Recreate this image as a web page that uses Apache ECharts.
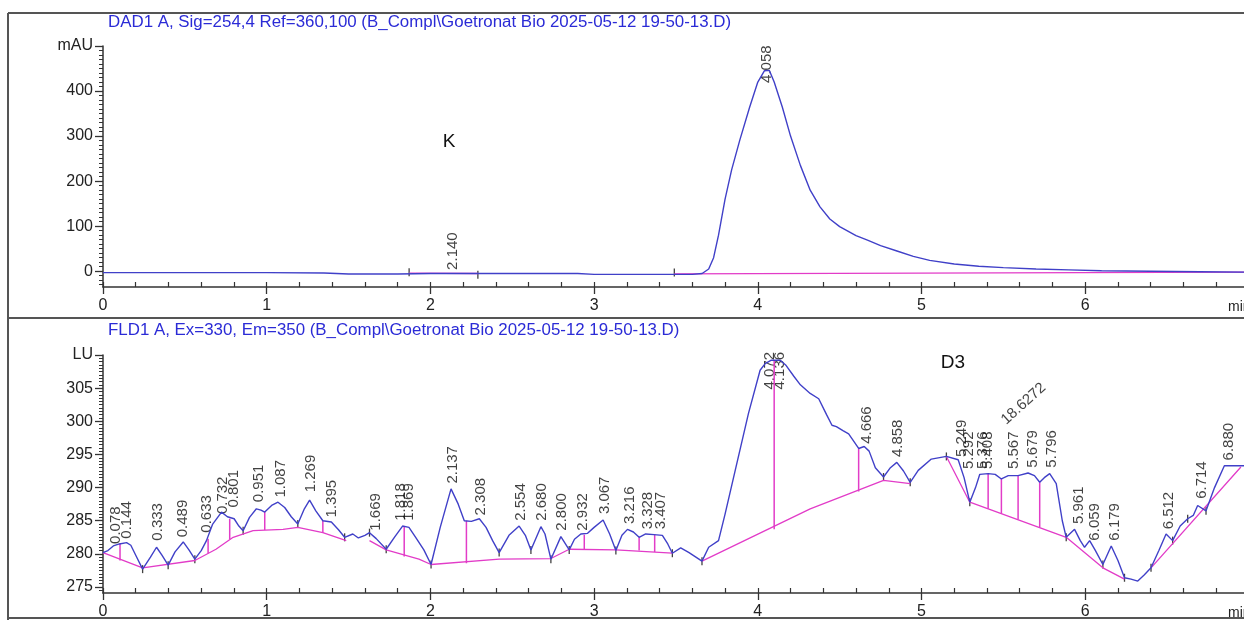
<!DOCTYPE html>
<html>
<head>
<meta charset="utf-8">
<style>
  html, body { margin: 0; padding: 0; background: #fff; }
  #chart { width: 1244px; height: 620px; }
</style>
<script src="https://cdn.jsdelivr.net/npm/echarts@6/dist/echarts.min.js"></script>
</head>
<body>
<div id="chart"></div>
<script>
// ---- DAD1 A (254 nm) trace ----
const dadTime = [0, 0.5, 1.0, 1.35, 1.5, 1.8, 2.0, 2.5, 2.9, 3.0, 3.3, 3.6, 3.66, 3.70, 3.73, 3.76, 3.80, 3.84, 3.89, 3.95, 4.00, 4.04, 4.07, 4.10, 4.15, 4.20, 4.26, 4.32, 4.38, 4.44, 4.50, 4.55, 4.60, 4.67, 4.75, 4.85, 4.95, 5.05, 5.20, 5.35, 5.50, 5.70, 5.90, 6.10, 6.40, 6.70, 6.97]
const dadSignal = [-3, -3, -3, -4, -6, -6, -5, -5, -5, -7, -7, -7, -5, 5, 30, 80, 160, 225, 291, 364, 420, 445, 446, 420, 364, 300, 235, 180, 143, 116, 99, 89, 79, 69, 57, 45, 33, 24, 16, 11, 8, 5, 3, 1, 0, -1, -2]
// baseline segments (null = gap)
const dadBaseTime = [1.87, 2.29, null, 3.49, 6.97]
const dadBaseValue = [-4, -5, null, -6, -2]
const dadMarkTime = [1.87, 2.29, 3.49]
const dadMarkValue = [-2, -8, -3]
const dadPeakTime = [2.140, 4.058]
const dadPeakAnchor = [3, 418]
const dadPeakText = ['2.140', '4.058']

// ---- FLD1 A (Ex 330 / Em 350) trace ----
const fldTime = [0.000, 0.030, 0.063, 0.100, 0.144, 0.170, 0.200, 0.242, 0.290, 0.327, 0.360, 0.398, 0.440, 0.490, 0.525, 0.561, 0.600, 0.632, 0.670, 0.724, 0.760, 0.801, 0.830, 0.856, 0.895, 0.937, 0.965, 0.988, 1.030, 1.069, 1.110, 1.150, 1.190, 1.230, 1.262, 1.300, 1.343, 1.395, 1.440, 1.476, 1.526, 1.560, 1.600, 1.628, 1.669, 1.730, 1.780, 1.830, 1.869, 1.910, 1.960, 2.004, 2.060, 2.126, 2.170, 2.207, 2.250, 2.299, 2.340, 2.380, 2.420, 2.480, 2.542, 2.580, 2.614, 2.675, 2.700, 2.736, 2.797, 2.848, 2.880, 2.919, 2.960, 3.000, 3.055, 3.095, 3.133, 3.170, 3.204, 3.240, 3.275, 3.315, 3.366, 3.417, 3.450, 3.478, 3.529, 3.580, 3.659, 3.700, 3.760, 3.800, 3.862, 3.943, 4.014, 4.045, 4.080, 4.137, 4.170, 4.220, 4.260, 4.320, 4.372, 4.420, 4.453, 4.480, 4.520, 4.555, 4.616, 4.650, 4.680, 4.718, 4.768, 4.810, 4.849, 4.890, 4.931, 4.980, 5.060, 5.152, 5.224, 5.260, 5.295, 5.330, 5.356, 5.407, 5.450, 5.488, 5.530, 5.590, 5.651, 5.690, 5.722, 5.750, 5.783, 5.823, 5.860, 5.884, 5.935, 5.970, 5.996, 6.027, 6.060, 6.108, 6.159, 6.200, 6.240, 6.280, 6.321, 6.360, 6.402, 6.450, 6.494, 6.534, 6.580, 6.626, 6.660, 6.687, 6.738, 6.790, 6.850, 6.951, 6.970]
const fldSignal = [280.2, 280.5, 281.2, 281.5, 281.7, 281.3, 279.8, 277.7, 279.5, 281.0, 279.8, 278.3, 280.3, 281.8, 280.6, 279.2, 280.5, 282.0, 284.5, 286.3, 285.6, 285.3, 284.2, 283.5, 285.5, 286.8, 286.6, 286.3, 287.3, 287.8, 287.0, 285.6, 284.5, 286.8, 288.1, 286.5, 285.0, 284.8, 283.6, 282.5, 283.0, 282.4, 282.8, 283.2, 282.3, 280.7, 282.5, 284.2, 284.0, 282.5, 280.6, 278.4, 284.0, 289.8, 287.5, 285.0, 284.9, 285.3, 284.0, 282.0, 280.2, 282.8, 284.2, 282.8, 280.6, 284.1, 283.0, 279.2, 282.6, 280.6, 282.2, 283.0, 283.1, 284.0, 285.1, 283.0, 280.5, 282.8, 283.7, 283.3, 282.5, 283.0, 282.9, 282.8, 281.5, 280.1, 280.9, 280.2, 278.9, 281.0, 282.0, 286.0, 292.6, 301.2, 307.7, 308.7, 309.2, 309.2, 308.5, 306.8, 305.5, 304.2, 303.4, 301.0, 299.4, 299.2, 298.6, 298.1, 295.9, 296.2, 295.5, 293.0, 291.6, 293.0, 293.8, 292.5, 290.8, 292.6, 294.3, 294.7, 294.2, 291.5, 287.8, 290.0, 292.0, 292.1, 292.0, 291.3, 291.8, 291.8, 292.2, 291.8, 290.8, 291.5, 292.1, 290.6, 285.0, 282.5, 283.7, 282.0, 281.0, 282.0, 280.6, 278.4, 281.2, 279.0, 276.4, 276.2, 275.9, 276.8, 277.9, 280.5, 283.0, 282.0, 284.2, 285.3, 285.8, 287.3, 286.5, 290.0, 293.3, 293.3, 293.3]
const fldBaseTime = [0, 0.242, 0.561, 0.69, 0.795, 0.917, 1.10, 1.19, 1.343, 1.486, null, 1.628, 1.73, 1.93, 2.004, 2.42, 2.736, 2.848, 3.133, 3.478, null, 3.659, 4.32, 4.768, 4.931, null, 5.152, 5.295, 5.884, 6.108, 6.24, null, 6.402, 6.951]
const fldBaseValue = [280.2, 277.9, 279.0, 280.7, 282.5, 283.5, 283.7, 284.0, 283.2, 282.0, null, 282.0, 280.6, 279.2, 278.4, 279.2, 279.3, 280.7, 280.6, 280.1, null, 278.9, 286.8, 291.1, 290.6, null, 294.7, 287.8, 282.5, 277.9, 276.2, null, 277.9, 293.1]
const fldDropTime = [0.104, 0.642, 0.774, 0.988, 1.343, 1.840, 2.220, 2.940, 3.275, 3.370, 4.100, 4.616, 5.407, 5.488, 5.590, 5.722]
const fldDropTop = [281.6, 282.3, 285.3, 286.3, 285.0, 284.2, 285.0, 282.9, 282.5, 282.9, 309.2, 295.9, 292.1, 291.3, 291.8, 290.8]
const fldDropBottom = [279.0, 280.1, 282.2, 283.6, 283.2, 279.6, 278.6, 280.7, 280.5, 280.3, 283.7, 289.4, 286.8, 286.1, 285.2, 284.0]
const fldMarkTime = [0.242, 0.398, 0.561, 0.856, 1.19, 1.476, 1.628, 1.73, 2.004, 2.42, 2.614, 2.736, 2.848, 3.133, 3.478, 3.659, 4.768, 4.931, 5.152, 5.295, 5.884, 6.108, 6.24, 6.402, 6.534, 6.626, 6.738]
const fldMarkValue = [277.7, 278.3, 279.2, 283.5, 284.5, 282.5, 283.2, 280.7, 278.4, 280.2, 280.6, 279.2, 280.6, 280.5, 280.1, 278.9, 291.6, 290.8, 294.7, 287.8, 282.5, 278.4, 276.4, 277.9, 282.0, 285.3, 286.5]
const fldPeakText = ['0.078', '0.144', '0.333', '0.489', '0.633', '0.732', '0.801', '0.951', '1.087', '1.269', '1.395', '1.669', '1.818', '1.869', '2.137', '2.308', '2.554', '2.680', '2.800', '2.932', '3.067', '3.216', '3.328', '3.407', '4.072', '4.136', '4.666', '4.858', '5.249', '5.292', '5.376', '5.408', '5.567', '5.679', '5.796', '5.961', '6.059', '6.179', '6.512', '6.714', '6.880']
const fldPeakAnchor = [281.5, 282.3, 282.0, 282.5, 283.2, 286.0, 287.0, 287.8, 288.5, 289.3, 285.5, 283.5, 285.0, 285.0, 290.6, 285.8, 285.0, 285.0, 283.5, 283.5, 286.0, 284.5, 283.7, 283.7, 304.8, 304.8, 296.6, 294.6, 294.6, 292.8, 292.8, 292.8, 292.8, 293.0, 293.0, 284.5, 282.0, 282.0, 283.7, 288.3, 294.1]

// axis ticks
const dadTicks = [0, 100, 200, 300, 400, 500]
const fldTicks = [275, 280, 285, 290, 295, 300, 305, 310]
const timeTicks = [0, 1, 2, 3, 4, 5, 6]

const TRACE = '#4040c8'
const BASE = '#e23cc8'
const AXIS = '#333'
const FONT = '"Liberation Sans", Arial, sans-serif'

const range = (a, b, step, skip) => {
  const out = []
  for (let v = a; v <= b + 1e-9; v += step) {
    const r = Math.round(v * 100) / 100
    if (!skip || !skip.includes(r)) out.push(r)
  }
  return out
}
const zip = (xs, ys) => xs.map((x, i) => (x === null ? [null, '-'] : [x, ys[i]]))
const drops = (ts, tops, bots) => {
  const out = []
  ts.forEach((t, i) => {
    out.push([t, tops[i]], [t, bots[i]], [t, '-'])
  })
  return out
}
const peaks = (ts, ys, txt) => ts.map((t, i) => ({ value: [t, ys[i]], name: txt[i] }))

const chart = echarts.init(document.getElementById('chart'), null, { renderer: 'canvas' })

const mainX = (grid) => ({
  type: 'value', gridIndex: grid, min: 0, max: 6.97, position: 'bottom',
  axisLine: { onZero: false, lineStyle: { color: AXIS, width: 1.5 } },
  axisTick: { length: 7, customValues: timeTicks, lineStyle: { color: AXIS, width: 1.3 } },
  axisLabel: { customValues: timeTicks, fontSize: 16, color: '#222', fontFamily: FONT, margin: 11 },
  splitLine: { show: false }
})
const minorX = (grid) => ({
  type: 'value', gridIndex: grid, min: 0, max: 6.97, position: 'bottom',
  axisLine: { show: false, onZero: false },
  axisTick: { inside: true, length: 5, customValues: range(0, 6.8, 0.2), lineStyle: { color: AXIS, width: 1.2 } },
  axisLabel: { show: false },
  splitLine: { show: false }
})
const mainY = (grid, min, max, ticks, unit) => ({
  type: 'value', gridIndex: grid, min: min, max: max, position: 'left',
  axisLine: { show: true, onZero: false, lineStyle: { color: AXIS, width: 1.5 } },
  axisTick: { show: true, length: 8, customValues: ticks, lineStyle: { color: AXIS, width: 1.3 } },
  axisLabel: {
    customValues: ticks, fontSize: 16, color: '#222', fontFamily: FONT, margin: 10,
    formatter: (v) => (v === max ? unit : String(v))
  },
  splitLine: { show: false }
})
const minorY = (grid, min, max, ticks) => ({
  type: 'value', gridIndex: grid, min: min, max: max, position: 'left',
  axisLine: { show: false, onZero: false },
  axisTick: { show: true, length: 4, customValues: ticks, lineStyle: { color: AXIS, width: 1 } },
  axisLabel: { show: false },
  splitLine: { show: false }
})

const lineSeries = (x, y, data, color, width) => ({
  type: 'line', xAxisIndex: x, yAxisIndex: y, data: data,
  showSymbol: false, symbol: 'none', connectNulls: false, silent: true,
  lineStyle: { color: color, width: width }
})
const markSeries = (x, y, data) => ({
  type: 'scatter', xAxisIndex: x, yAxisIndex: y, data: data, silent: true,
  symbol: 'rect', symbolSize: [1.3, 8], itemStyle: { color: '#111' }
})
const labelSeries = (x, y, data, rotate) => ({
  type: 'scatter', xAxisIndex: x, yAxisIndex: y, data: data, silent: true,
  symbolSize: 0,
  label: {
    show: true, formatter: '{b}', rotate: rotate, position: 'inside',
    align: 'left', verticalAlign: 'middle',
    fontSize: 15, color: '#111', fontFamily: FONT
  }
})

const option = {
  animation: false,
  backgroundColor: '#fff',
  grid: [
    { left: 103, right: 0, top: 46, height: 241, containLabel: false, outerBoundsMode: 'none' },
    { left: 103, right: 0, top: 355, height: 238, containLabel: false, outerBoundsMode: 'none' }
  ],
  xAxis: [mainX(0), minorX(0), mainX(1), minorX(1)],
  yAxis: [
    mainY(0, -35, 500, dadTicks, 'mAU'),
    minorY(0, -35, 500, range(-30, 490, 10, dadTicks)),
    mainY(1, 274.1, 310, fldTicks, 'LU'),
    minorY(1, 274.1, 310, range(274.5, 309.5, 0.5, fldTicks))
  ],
  series: [
    lineSeries(0, 0, zip(dadBaseTime, dadBaseValue), BASE, 1.3),
    lineSeries(0, 0, zip(dadTime, dadSignal), TRACE, 1.4),
    markSeries(0, 0, zip(dadMarkTime, dadMarkValue)),
    labelSeries(0, 0, peaks(dadPeakTime, dadPeakAnchor, dadPeakText), 90),

    lineSeries(2, 2, zip(fldBaseTime, fldBaseValue), BASE, 1.3),
    lineSeries(2, 2, drops(fldDropTime, fldDropTop, fldDropBottom), BASE, 1.5),
    lineSeries(2, 2, zip(fldTime, fldSignal), TRACE, 1.4),
    markSeries(2, 2, zip(fldMarkTime, fldMarkValue)),
    labelSeries(2, 2, peaks(fldPeakText.map(Number), fldPeakAnchor, fldPeakText), 90),
    labelSeries(2, 2, [{ value: [5.50, 299.9], name: '18.6272' }], 42)
  ],
  graphic: [
    { type: 'line', silent: true, shape: { x1: 8, y1: 13, x2: 1244, y2: 13 }, style: { stroke: '#555', lineWidth: 2 } },
    { type: 'line', silent: true, shape: { x1: 8, y1: 13, x2: 8, y2: 620 }, style: { stroke: '#555', lineWidth: 2 } },
    { type: 'line', silent: true, shape: { x1: 8, y1: 318, x2: 1244, y2: 318 }, style: { stroke: '#555', lineWidth: 2 } },
    { type: 'line', silent: true, shape: { x1: 8, y1: 618, x2: 1244, y2: 618 }, style: { stroke: '#555', lineWidth: 2 } },
    { type: 'text', x: 108, y: 23, scaleX: 1.055, style: { text: 'DAD1 A, Sig=254,4 Ref=360,100 (B_Compl\\Goetronat Bio 2025-05-12 19-50-13.D)', fill: '#2b2bd6', font: '16px ' + FONT, verticalAlign: 'middle' } },
    { type: 'text', x: 108, y: 331, scaleX: 1.055, style: { text: 'FLD1 A, Ex=330, Em=350 (B_Compl\\Goetronat Bio 2025-05-12 19-50-13.D)', fill: '#2b2bd6', font: '16px ' + FONT, verticalAlign: 'middle' } },
    { type: 'text', x: 449, y: 142, style: { text: 'K', fill: '#111', font: '19px ' + FONT, align: 'center', verticalAlign: 'middle' } },
    { type: 'text', x: 953, y: 363, style: { text: 'D3', fill: '#111', font: '19px ' + FONT, align: 'center', verticalAlign: 'middle' } },
    { type: 'text', x: 1228, y: 307, style: { text: 'min', fill: '#222', font: '14px ' + FONT, verticalAlign: 'middle' } },
    { type: 'text', x: 1228, y: 613, style: { text: 'min', fill: '#222', font: '14px ' + FONT, verticalAlign: 'middle' } }
  ]
}

chart.setOption(option)
</script>
</body>
</html>
